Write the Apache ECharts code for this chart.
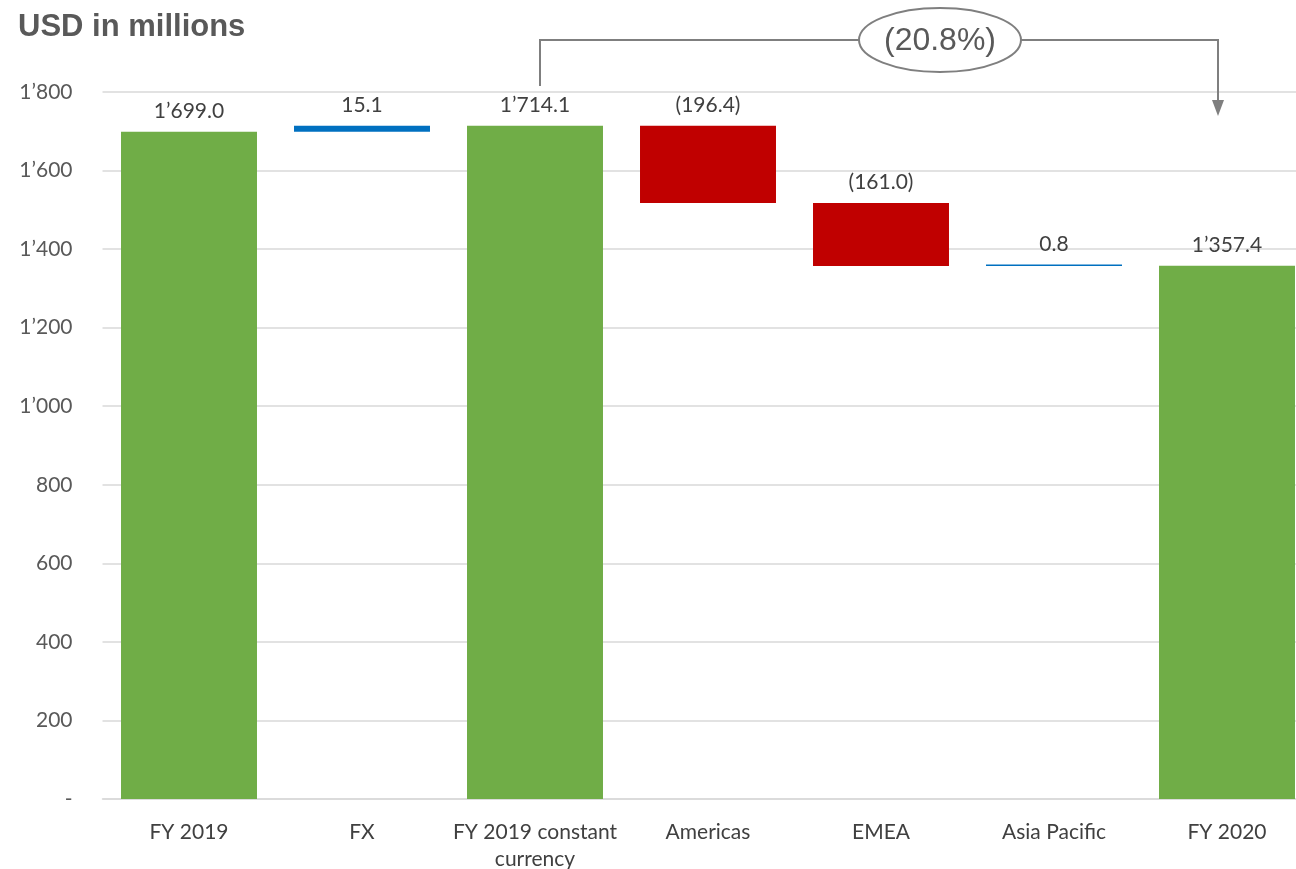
<!DOCTYPE html>
<html>
<head>
<meta charset="utf-8">
<script src="https://cdn.jsdelivr.net/npm/echarts@6/dist/echarts.min.js"></script>
<style>html,body{margin:0;padding:0;background:#fff;}#c{width:1296px;height:869px;}</style>
</head>
<body>
<div id="c"></div>
<script>
const categories = ['FY 2019', 'FX', 'FY 2019 constant\ncurrency', 'Americas', 'EMEA', 'Asia Pacific', 'FY 2020'];
const values = [1699.0, 15.1, 1714.1, -196.4, -161.0, 0.8, 1357.4];
const kinds = ['total', 'delta', 'total', 'delta', 'delta', 'delta', 'total'];
const yTicks = [0, 200, 400, 600, 800, 1000, 1200, 1400, 1600, 1800];
const changeLabel = '(20.8%)';

const GREEN = '#70ad47', RED = '#c00000', BLUE = '#0070c0';
const FONT = 'Lato, "Open Sans", sans-serif';

function sep(n) {
  const s = n.toFixed(1);
  const [i, d] = s.split('.');
  return i.replace(/\B(?=(\d{3})+(?!\d))/g, '\u2019') + '.' + d;
}
function fmt(v) { return v < 0 ? '(' + sep(-v) + ')' : sep(v); }

const base = [], vis = [];
let run = 0;
values.forEach((v, i) => {
  if (kinds[i] === 'total') {
    base.push(0); vis.push({ value: v, itemStyle: { color: GREEN } }); run = v;
  } else if (v >= 0) {
    base.push(run); vis.push({ value: v, itemStyle: { color: BLUE } }); run += v;
  } else {
    run += v; base.push(run); vis.push({ value: -v, itemStyle: { color: RED } });
  }
});

const chart = echarts.init(document.getElementById('c'));
chart.setOption({
  animation: false,
  backgroundColor: '#fff',
  title: {
    text: 'USD in millions', left: 13, top: 7,
    textStyle: { fontFamily: '"Liberation Sans", Arial, sans-serif', fontWeight: 'bold', fontSize: 31, color: '#595959' }
  },
  grid: { left: 102.5, width: 1211, top: 92, height: 707, containLabel: false, outerBoundsMode: 'none' },
  xAxis: {
    type: 'category', data: categories,
    axisLine: { lineStyle: { color: '#d9d9d9', width: 1.5 } },
    axisTick: { show: false },
    axisLabel: { fontFamily: FONT, fontSize: 21, color: '#404040', margin: 20, lineHeight: 27, interval: 0 }
  },
  yAxis: {
    type: 'value', min: yTicks[0], max: yTicks[yTicks.length - 1], interval: 200,
    axisLine: { show: false }, axisTick: { show: false },
    splitLine: { lineStyle: { color: '#d9d9d9', width: 1.5 } },
    axisLabel: {
      fontFamily: FONT, fontSize: 21, color: '#595959', margin: 30,
      formatter: v => v === 0 ? '-' : String(v).replace(/\B(?=(\d{3})+(?!\d))/g, '\u2019')
    }
  },
  series: [
    { type: 'bar', stack: 'w', data: base, itemStyle: { color: 'transparent' }, barCategoryGap: '21.4%', silent: true },
    {
      type: 'bar', stack: 'w', data: vis, barMinHeight: 1.5,
      label: {
        show: true, position: 'top', distance: 10,
        fontFamily: FONT, fontSize: 21, color: '#404040',
        formatter: p => fmt(values[p.dataIndex])
      }
    }
  ],
  graphic: [
    { type: 'polyline', z: 10, shape: { points: [[540, 86], [540, 40], [1218, 40], [1218, 102]] }, style: { stroke: '#7f7f7f', lineWidth: 2, fill: null } },
    { type: 'polygon', z: 10, shape: { points: [[1212, 100], [1224, 100], [1218, 116]] }, style: { fill: '#7f7f7f' } },
    { type: 'ellipse', z: 11, shape: { cx: 940, cy: 40, rx: 81, ry: 32 }, style: { fill: '#fff', stroke: '#7f7f7f', lineWidth: 2 } },
    { type: 'text', z: 12, x: 940, y: 41, style: { text: changeLabel, fontFamily: '"Liberation Sans", Arial, sans-serif', fontSize: 32, fill: '#595959', align: 'center', verticalAlign: 'middle' } }
  ]
});
</script>
</body>
</html>
